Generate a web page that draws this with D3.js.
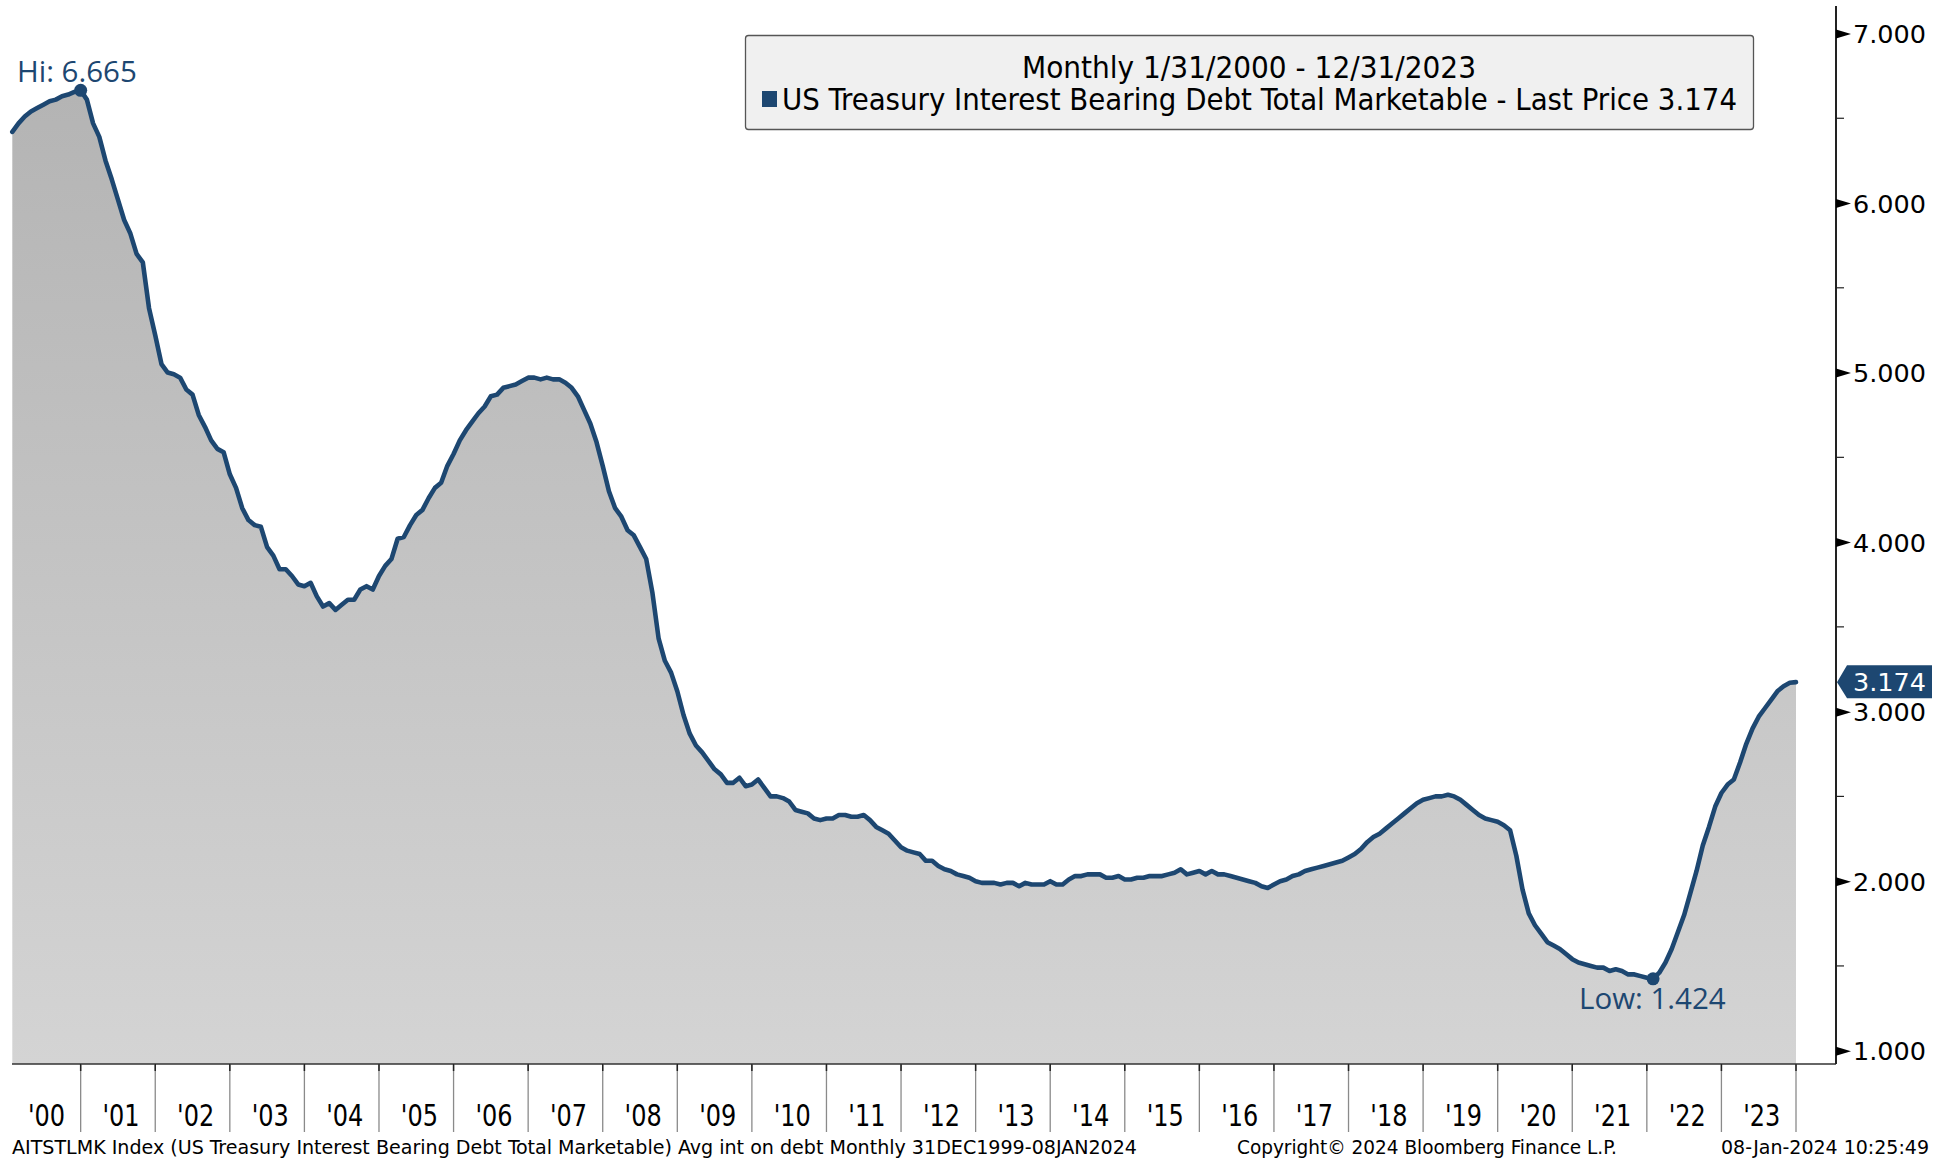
<!DOCTYPE html>
<html>
<head>
<meta charset="utf-8">
<script src="https://cdn.jsdelivr.net/npm/d3@7"></script>
<style>
  html, body { margin: 0; padding: 0; background: #ffffff; }
  svg { display: block; }
  .narrow { font-family: "Liberation Sans Narrow", "DejaVu Sans Condensed", "Liberation Sans", sans-serif; font-stretch: condensed; }
  .wide { font-family: "DejaVu Sans", Verdana, sans-serif; }
  .anno { font-family: "Open Sans", "Noto Sans", sans-serif; }
</style>
</head>
<body>
<svg id="chart" width="1950" height="1160"></svg>
<script>
// ---------------- DATA ----------------
const startYear = 2000;           // first observation: 1/31/2000, monthly
const seriesName = "US Treasury Interest Bearing Debt Total Marketable";
const values = [
  // 2000
  6.42, 6.47, 6.51, 6.54, 6.56, 6.58, 6.60, 6.61, 6.63, 6.64, 6.655, 6.665,
  // 2001
  6.61, 6.47, 6.39, 6.25, 6.14, 6.02, 5.90, 5.82, 5.70, 5.65, 5.38, 5.22,
  // 2002
  5.05, 5.00, 4.99, 4.97, 4.90, 4.87, 4.75, 4.68, 4.60, 4.55, 4.53, 4.40,
  // 2003
  4.32, 4.20, 4.13, 4.10, 4.09, 3.97, 3.92, 3.84, 3.84, 3.80, 3.75, 3.74,
  // 2004
  3.76, 3.68, 3.62, 3.64, 3.60, 3.63, 3.66, 3.66, 3.72, 3.74, 3.72, 3.80,
  // 2005
  3.86, 3.90, 4.02, 4.03, 4.10, 4.16, 4.19, 4.26, 4.32, 4.35, 4.45, 4.52,
  // 2006
  4.60, 4.66, 4.71, 4.76, 4.80, 4.86, 4.87, 4.91, 4.92, 4.93, 4.95, 4.97,
  // 2007
  4.97, 4.96, 4.97, 4.96, 4.96, 4.94, 4.91, 4.86, 4.78, 4.70, 4.59, 4.45,
  // 2008
  4.30, 4.20, 4.15, 4.07, 4.04, 3.97, 3.90, 3.70, 3.43, 3.30, 3.23, 3.12,
  // 2009
  2.98, 2.87, 2.80, 2.76, 2.71, 2.66, 2.63, 2.58, 2.58, 2.61, 2.56, 2.57,
  // 2010
  2.60, 2.55, 2.50, 2.50, 2.49, 2.47, 2.42, 2.41, 2.40, 2.37, 2.36, 2.37,
  // 2011
  2.37, 2.39, 2.39, 2.38, 2.38, 2.39, 2.36, 2.32, 2.30, 2.28, 2.24, 2.20,
  // 2012
  2.18, 2.17, 2.16, 2.12, 2.12, 2.09, 2.07, 2.06, 2.04, 2.03, 2.02, 2.00,
  // 2013
  1.99, 1.99, 1.99, 1.98, 1.99, 1.99, 1.97, 1.99, 1.98, 1.98, 1.98, 2.00,
  // 2014
  1.98, 1.98, 2.01, 2.03, 2.03, 2.04, 2.04, 2.04, 2.02, 2.02, 2.03, 2.01,
  // 2015
  2.01, 2.02, 2.02, 2.03, 2.03, 2.03, 2.04, 2.05, 2.07, 2.04, 2.05, 2.06,
  // 2016
  2.04, 2.06, 2.04, 2.04, 2.03, 2.02, 2.01, 2.00, 1.99, 1.97, 1.96, 1.98,
  // 2017
  2.00, 2.01, 2.03, 2.04, 2.06, 2.07, 2.08, 2.09, 2.10, 2.11, 2.12, 2.14,
  // 2018
  2.16, 2.19, 2.23, 2.26, 2.28, 2.31, 2.34, 2.37, 2.40, 2.43, 2.46, 2.48,
  // 2019
  2.49, 2.50, 2.50, 2.51, 2.50, 2.48, 2.45, 2.42, 2.39, 2.37, 2.36, 2.35,
  // 2020
  2.33, 2.30, 2.15, 1.95, 1.81, 1.74, 1.69, 1.64, 1.62, 1.60, 1.57, 1.54,
  // 2021
  1.52, 1.51, 1.50, 1.49, 1.49, 1.47, 1.48, 1.47, 1.45, 1.45, 1.44, 1.43,
  // 2022
  1.424, 1.46, 1.52, 1.60, 1.70, 1.80, 1.93, 2.06, 2.21, 2.32, 2.44, 2.52,
  // 2023
  2.57, 2.60, 2.70, 2.81, 2.90, 2.97, 3.02, 3.07, 3.12, 3.15, 3.17, 3.174
];
const yearLabels = ["'00","'01","'02","'03","'04","'05","'06","'07","'08","'09","'10","'11",
                    "'12","'13","'14","'15","'16","'17","'18","'19","'20","'21","'22","'23"];
const yTickValues = [1, 2, 3, 4, 5, 6, 7];
const yMinorValues = [1.5, 2.5, 3.5, 4.5, 5.5, 6.5];
const hiPoint = { index: 11, value: 6.665, label: "Hi: 6.665" };
const lowPoint = { index: 264, value: 1.424, label: "Low: 1.424" };
const lastPrice = 3.174;
const legendTitle = "Monthly 1/31/2000 - 12/31/2023";
const footerLeft = "AITSTLMK Index (US Treasury Interest Bearing Debt Total Marketable) Avg int on debt  Monthly 31DEC1999-08JAN2024";
const footerMid = "Copyright\u00A9 2024 Bloomberg Finance L.P.";
const footerRight = "08-Jan-2024 10:25:49";

// ---------------- LAYOUT ----------------
const W = 1950, H = 1160;
const plotLeft = 12, plotRight = 1836, plotTop = 6, plotBottom = 1064;
const lineColor = "#1d4771";

const svg = d3.select("#chart");

const x = d3.scaleLinear().domain([0, values.length - 1]).range([12.3, 1796]);
const y = d3.scaleLinear().domain([1, 7]).range([1050.7, 33.5]);

// gradient fill
const defs = svg.append("defs");
const grad = defs.append("linearGradient")
  .attr("id", "areaGrad").attr("gradientUnits", "userSpaceOnUse")
  .attr("x1", 0).attr("x2", 0).attr("y1", y(7)).attr("y2", plotBottom);
grad.append("stop").attr("offset", "0%").attr("stop-color", "#b2b2b2");
grad.append("stop").attr("offset", "100%").attr("stop-color", "#d4d4d4");

// area
const area = d3.area()
  .x((d, i) => x(i))
  .y0(plotBottom)
  .y1(d => y(d));
svg.append("path").datum(values)
  .attr("d", area)
  .attr("fill", "url(#areaGrad)");

// line
const line = d3.line().x((d, i) => x(i)).y(d => y(d));
svg.append("path").datum(values)
  .attr("d", line)
  .attr("fill", "none")
  .attr("stroke", lineColor)
  .attr("stroke-width", 4.6)
  .attr("stroke-linejoin", "round")
  .attr("stroke-linecap", "round");

// frame: bottom line + right axis line
svg.append("line")
  .attr("x1", plotLeft).attr("x2", plotRight)
  .attr("y1", plotBottom).attr("y2", plotBottom)
  .attr("stroke", "#333").attr("stroke-width", 1.5);
svg.append("line")
  .attr("x1", plotRight).attr("x2", plotRight)
  .attr("y1", plotTop).attr("y2", plotBottom)
  .attr("stroke", "#222").attr("stroke-width", 2);

// right axis via d3.axisRight (labels), custom triangle ticks
const yAxis = d3.axisRight(y)
  .tickValues(yTickValues)
  .tickFormat(d3.format(".3f"))
  .tickSize(0)
  .tickPadding(17);
const gy = svg.append("g")
  .attr("transform", `translate(${plotRight},0)`)
  .call(yAxis);
gy.select(".domain").remove();
gy.selectAll(".tick text")
  .attr("class", "wide")
  .attr("font-size", 25.5)
  .attr("fill", "#000")
  .attr("dy", "0.36em");
gy.selectAll(".tick").append("path")
  .attr("d", "M0,-4.5 L15,0 L0,4.5 Z")
  .attr("fill", "#000");
svg.append("g").selectAll("line").data(yMinorValues).join("line")
  .attr("x1", plotRight).attr("x2", plotRight + 8)
  .attr("y1", d => y(d)).attr("y2", d => y(d))
  .attr("stroke", "#222").attr("stroke-width", 1.2);

// x separators (year ends) and labels
const sepIdx = yearLabels.map((d, k) => 11 + 12 * k);
const gx = svg.append("g");
gx.selectAll("line.sep").data(sepIdx).join("line")
  .attr("class", "sep")
  .attr("x1", d => x(d)).attr("x2", d => x(d))
  .attr("y1", plotBottom).attr("y2", 1132)
  .attr("stroke", "#8a8a8a").attr("stroke-width", 1.3);
gx.selectAll("line.tk").data(sepIdx).join("line")
  .attr("class", "tk")
  .attr("x1", d => x(d)).attr("x2", d => x(d))
  .attr("y1", plotBottom).attr("y2", plotBottom + 7)
  .attr("stroke", "#222").attr("stroke-width", 1.5);
const xl = gx.selectAll("text").data(yearLabels).join("text")
  .attr("class", "narrow")
  .attr("x", (d, k) => x(5.5 + 12 * k))
  .attr("y", 1126)
  .attr("text-anchor", "middle")
  .attr("font-size", 31)
  .attr("fill", "#000")
  .text(d => d);
// condense the year labels slightly (taller, narrower glyphs like the original)
xl.each(function () {
  const w = this.getComputedTextLength();
  d3.select(this).attr("textLength", w * 0.86).attr("lengthAdjust", "spacingAndGlyphs");
});

// Hi / Low markers
[hiPoint, lowPoint].forEach(p => {
  svg.append("circle")
    .attr("cx", x(p.index)).attr("cy", y(p.value)).attr("r", 6.5)
    .attr("fill", lineColor);
});
svg.append("text").attr("class", "anno")
  .attr("x", 17).attr("y", 82)
  .attr("font-size", 29.5).attr("fill", lineColor)
  .text(hiPoint.label);
svg.append("text").attr("class", "anno")
  .attr("x", 1579).attr("y", 1009)
  .attr("font-size", 29.5).attr("fill", lineColor)
  .text(lowPoint.label);

// last price tag
const ly = y(lastPrice);
svg.append("path")
  .attr("d", `M${plotRight + 1},${ly} L${plotRight + 11},${ly - 17} L1932,${ly - 17} L1932,${ly + 16} L${plotRight + 11},${ly + 16} Z`)
  .attr("fill", lineColor);
svg.append("text").attr("class", "wide")
  .attr("x", plotRight + 17).attr("y", ly)
  .attr("dy", "0.36em")
  .attr("font-size", 25.5).attr("fill", "#fff")
  .text(d3.format(".3f")(lastPrice));

// legend box
svg.append("rect")
  .attr("x", 745.5).attr("y", 35.5).attr("width", 1008).attr("height", 94)
  .attr("rx", 3)
  .attr("fill", "#f0f0f0").attr("stroke", "#555").attr("stroke-width", 1.3);
svg.append("text").attr("class", "narrow")
  .attr("x", 1249).attr("y", 78)
  .attr("text-anchor", "middle")
  .attr("font-size", 30).attr("fill", "#000")
  .attr("textLength", 454).attr("lengthAdjust", "spacingAndGlyphs")
  .text(legendTitle);
svg.append("rect")
  .attr("x", 762).attr("y", 91).attr("width", 15).attr("height", 16)
  .attr("fill", lineColor);
svg.append("text").attr("class", "narrow")
  .attr("x", 782).attr("y", 110)
  .attr("font-size", 30).attr("fill", "#000")
  .attr("textLength", 955).attr("lengthAdjust", "spacingAndGlyphs")
  .text(`${seriesName} - Last Price ${d3.format(".3f")(lastPrice)}`);

// footer
svg.append("text").attr("class", "narrow")
  .attr("x", 12).attr("y", 1154).attr("font-size", 20).attr("fill", "#000")
  .attr("textLength", 1125).attr("lengthAdjust", "spacingAndGlyphs")
  .text(footerLeft);
svg.append("text").attr("class", "narrow")
  .attr("x", 1237).attr("y", 1154).attr("font-size", 20).attr("fill", "#000")
  .attr("textLength", 380).attr("lengthAdjust", "spacingAndGlyphs")
  .text(footerMid);
svg.append("text").attr("class", "narrow")
  .attr("x", 1721).attr("y", 1154).attr("font-size", 20).attr("fill", "#000")
  .attr("textLength", 208).attr("lengthAdjust", "spacingAndGlyphs")
  .text(footerRight);
</script>
</body>
</html>
